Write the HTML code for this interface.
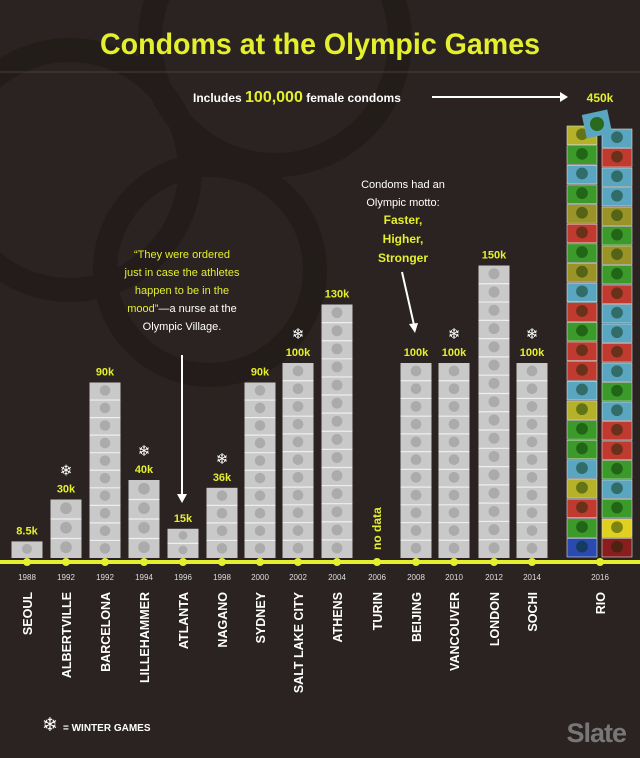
<!DOCTYPE html>
<html><head><meta charset="utf-8"><style>
html,body{margin:0;padding:0;background:#2b2321;}
svg{display:block;font-family:"Liberation Sans",sans-serif;}
</style></head><body>
<svg id="chart" width="640" height="758" viewBox="0 0 640 758">
<rect width="640" height="758" fill="#2b2321"/>
<g fill="none" stroke="#221b19" stroke-width="24" opacity="0.8">
<circle cx="70" cy="170" r="120"/><circle cx="275" cy="40" r="125"/><circle cx="210" cy="270" r="105"/>
</g>
<text x="320" y="54" text-anchor="middle" font-size="30" font-weight="bold" fill="#e4ef2e" textLength="440" lengthAdjust="spacingAndGlyphs">Condoms at the Olympic Games</text>
<line x1="0" y1="72" x2="640" y2="72" stroke="#4a3f33"/>
<text x="193" y="102" font-size="12" fill="#fff" font-weight="bold">Includes <tspan fill="#e4ef2e" font-size="16">100,000</tspan> female condoms</text>
<line x1="432" y1="97" x2="560" y2="97" stroke="#fff" stroke-width="2"/>
<path d="M560 92 L568 97 L560 102Z" fill="#fff"/>
<g font-size="11" fill="#fff" text-anchor="middle">
<text x="403" y="188">Condoms had an</text><text x="403" y="206">Olympic motto:</text>
<text x="403" y="224" fill="#e4ef2e" font-weight="bold" font-size="12">Faster,</text>
<text x="403" y="243" fill="#e4ef2e" font-weight="bold" font-size="12">Higher,</text>
<text x="403" y="262" fill="#e4ef2e" font-weight="bold" font-size="12">Stronger</text>
</g>
<line x1="402" y1="272" x2="414" y2="325" stroke="#fff" stroke-width="2"/>
<path d="M409 324 L415 333 L418 323Z" fill="#fff"/>
<g font-size="11" fill="#fff" text-anchor="middle">
<text x="182" y="258" fill="#e4ef2e">“They were ordered</text>
<text x="182" y="276" fill="#e4ef2e">just in case the athletes</text>
<text x="182" y="294" fill="#e4ef2e">happen to be in the</text>
<text x="182" y="312"><tspan fill="#e4ef2e">mood”</tspan>—a nurse at the</text>
<text x="182" y="330">Olympic Village.</text>
</g>
<line x1="182" y1="355" x2="182" y2="496" stroke="#fff" stroke-width="2"/>
<path d="M177 494 L182 503 L187 494Z" fill="#fff"/>
<g id="bars"></g>
<line x1="0" y1="562" x2="640" y2="562" stroke="#e4ef2e" stroke-width="4"/>
<g id="axis"></g>
<text x="50" y="731" font-size="19" fill="#fff" text-anchor="middle">❄</text>
<text x="63" y="731" font-size="10" font-weight="bold" fill="#fff">= WINTER GAMES</text>
<text x="626" y="742" font-size="27" fill="#777" text-anchor="end" font-weight="bold" letter-spacing="-1">Slate</text>
</svg>
<script>
const cities=["SEOUL","ALBERTVILLE","BARCELONA","LILLEHAMMER","ATLANTA","NAGANO","SYDNEY","SALT LAKE CITY","ATHENS","TURIN","BEIJING","VANCOUVER","LONDON","SOCHI","RIO"];
const years=["1988","1992","1992","1994","1996","1998","2000","2002","2004","2006","2008","2010","2012","2014","2016"];
const values=[8.5,30,90,40,15,36,90,100,130,null,100,100,150,100,450];
const labels=["8.5k","30k","90k","40k","15k","36k","90k","100k","130k","no data","100k","100k","150k","100k","450k"];
const winter=[false,true,false,true,false,true,false,true,false,true,false,true,false,true,false];
const centers=[27,66,105,144,183,222,260,298,337,377,416,454,494,532,600];
const base=558, pxPerK=1.95, maxH=432;
const y=v=>base-Math.min(v*pxPerK,maxH);
const NS="http://www.w3.org/2000/svg";
const bars=document.getElementById('bars'), axis=document.getElementById('axis');
function mk(t,a,p){const e=document.createElementNS(NS,t);for(const k in a)e.setAttribute(k,a[k]);p.appendChild(e);return e;}
const rioCols=["#b5b22a","#3c9a2a","#5aa5c0","#3c9a2a","#9a9428","#c03a30","#3c9a2a","#9a9428","#5aa5c0","#c03a30","#3c9a2a","#c03a30","#c03a30","#5aa5c0","#b5b22a","#3c9a2a","#3c9a2a","#5aa5c0","#b5b22a","#c03a30","#3c9a2a","#2a4ab0"];
const rioCols2=["#5aa5c0","#c03a30","#5aa5c0","#5aa5c0","#9a9428","#3c9a2a","#9a9428","#3c9a2a","#c03a30","#5aa5c0","#5aa5c0","#c03a30","#5aa5c0","#3c9a2a","#5aa5c0","#c03a30","#c03a30","#3c9a2a","#5aa5c0","#3c9a2a","#e0d020","#8a1e1e"];
values.forEach((v,i)=>{
  const cx=centers[i];
  const dot=mk('circle',{cx:cx,cy:562,r:4,fill:'#e4ef2e'},axis);
  
  
  const yt=mk('text',{x:cx,y:580,'font-size':8,fill:'#ddd','text-anchor':'middle'},axis);
  yt.textContent=years[i];
  
  
  const ct=mk('text',{x:0,y:0,'font-size':12.5,'font-weight':'bold',fill:'#fff','text-anchor':'end',transform:`translate(${cx+5},592) rotate(-90)`},axis);
  ct.textContent=cities[i];
  
  
  if(v===null){
    const nd=mk('text',{x:0,y:0,'font-size':12,'font-weight':'bold',fill:'#e4ef2e',transform:`translate(${cx+4},550) rotate(-90)`},bars);
    nd.textContent=labels[i];
    
    
    return;
  }
  const top=y(v);
  if(i===14){
    const g=mk('g',{},bars);
    
    
    [[567,rioCols],[602,rioCols2]].forEach(([x0,cols],c)=>{
      const t0=top+(c?3:0);const n=cols.length;const h=(base-t0)/n;
      cols.forEach((col,k)=>{
        mk('rect',{x:x0,y:t0+k*h,width:30,height:h-1,fill:col,stroke:'#ddd','stroke-width':0.6},g);
        mk('circle',{cx:x0+15,cy:t0+k*h+h*0.42,r:h*0.3,fill:'rgba(0,40,0,0.45)'},g);
      });
    });
    mk('rect',{x:584,y:top-14,width:26,height:24,fill:'#5aa5c0',transform:`rotate(-12 597 ${top-2})`},g);
    mk('circle',{cx:597,cy:top-2,r:7,fill:'#2a6a1e'},g);
    const lb=mk('text',{x:600,y:102,'font-size':12,'font-weight':'bold',fill:'#e4ef2e','text-anchor':'middle'},bars);
    lb.textContent=labels[i];
    
    
    return;
  }
  const w=31,x0=cx-w/2;
  const g=mk('g',{},bars);
  
  
  mk('rect',{x:x0,y:top,width:w,height:base-top,fill:'#c9c9c9'},g);
  const n=Math.max(1,Math.round((base-top)/18));const h=(base-top)/n;
  for(let k=0;k<n;k++){
    mk('circle',{cx:cx,cy:top+k*h+h*0.45,r:Math.min(h,w)*0.3,fill:'#ababab'},g);
    if(k>0)mk('line',{x1:x0,x2:x0+w,y1:top+k*h,y2:top+k*h,stroke:'#eee','stroke-width':1.2},g);
  }
  const lb=mk('text',{x:cx,y:top-7,'font-size':11,'font-weight':'bold',fill:'#e4ef2e','text-anchor':'middle'},bars);
  lb.textContent=labels[i];
  
  
  if(winter[i]){
    const s=mk('text',{x:cx,y:top-24,'font-size':15,fill:'#fff','text-anchor':'middle'},bars);
    s.textContent='❄';
    
    
  }
});
</script>
</body></html>
